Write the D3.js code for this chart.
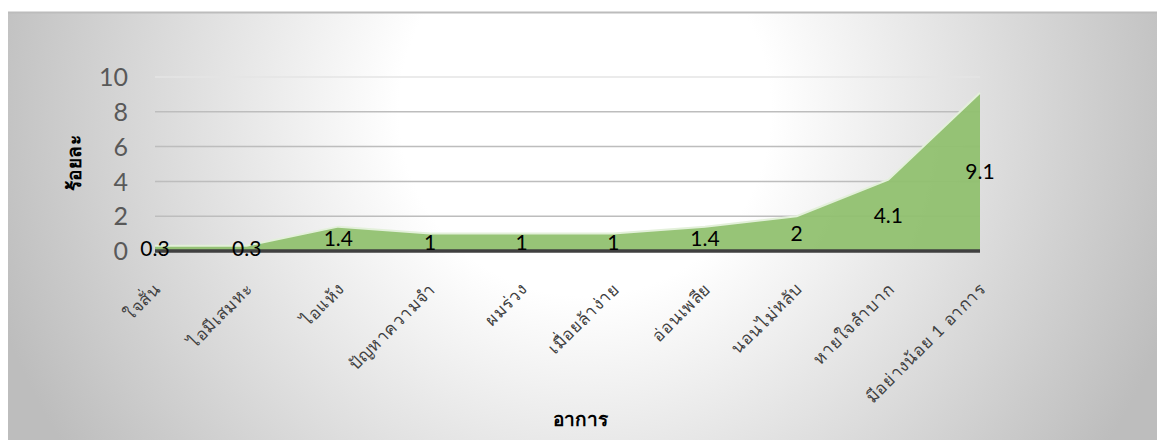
<!DOCTYPE html>
<html>
<head>
<meta charset="utf-8">
<script src="https://cdn.jsdelivr.net/npm/d3@7"></script>
<style>
  body { margin: 0; background: #fff; }
  text { font-family: Lato, "Noto Sans", sans-serif; }
</style>
</head>
<body>
<svg id="chart" width="1157" height="440"></svg>
<script>
// data
var symptoms = ["ใจสั่น", "ไอมีเสมหะ", "ไอแห้ง", "ปัญหาความจำ", "ผมร่วง",
  "เมื่อยล้าง่าย", "อ่อนเพลีย", "นอนไม่หลับ", "หายใจลำบาก", "มีอย่างน้อย 1 อาการ"];
var percent = [0.3, 0.3, 1.4, 1, 1, 1, 1.4, 2, 4.1, 9.1];
var yTicks = [0, 2, 4, 6, 8, 10];

var svg = d3.select("#chart");
var svgWidth = +svg.attr("width");
var svgHeight = +svg.attr("height");
var margin = { top: 77, right: 177, bottom: 189, left: 155 };
var chartWidth = svgWidth - margin.left - margin.right;
var chartHeight = svgHeight - margin.top - margin.bottom;

// background gradient
var defs = svg.append("defs");
var grad = defs.append("radialGradient")
  .attr("id", "bg")
  .attr("gradientUnits", "userSpaceOnUse")
  .attr("cx", 585).attr("cy", 110).attr("r", 620);
grad.append("stop").attr("offset", "0").attr("stop-color", "#ffffff");
grad.append("stop").attr("offset", "0.3").attr("stop-color", "#ffffff");
grad.append("stop").attr("offset", "1").attr("stop-color", "#bdbdbd");

svg.append("rect")
  .attr("x", 8).attr("y", 12)
  .attr("width", svgWidth - 8).attr("height", svgHeight - 12)
  .attr("fill", "url(#bg)");
svg.append("line")
  .attr("x1", 8).attr("x2", svgWidth)
  .attr("y1", 12.5).attr("y2", 12.5)
  .attr("stroke", "#bcbcbc").attr("stroke-width", 2);

var g = svg.append("g")
  .attr("transform", "translate(" + margin.left + "," + margin.top + ")");

// scales
var xScale = d3.scalePoint()
  .domain(symptoms)
  .range([0, chartWidth]);
var yScale = d3.scaleLinear()
  .domain([0, 10])
  .range([chartHeight, 0]);

// gridlines
g.selectAll(".grid")
  .data(yTicks.filter(d => d > 0))
  .enter().append("line")
  .attr("class", "grid")
  .attr("x1", 0).attr("x2", chartWidth)
  .attr("y1", d => yScale(d)).attr("y2", d => yScale(d))
  .attr("stroke", d => d === 10 ? "#e4e4e4" : "#bdbdbd")
  .attr("stroke-width", 1.5);

// area
var area = d3.area()
  .x((d, i) => xScale(symptoms[i]))
  .y0(yScale(0))
  .y1(d => yScale(d));
var line = d3.line()
  .x((d, i) => xScale(symptoms[i]))
  .y(d => yScale(d));

g.append("path")
  .datum(percent)
  .attr("d", area)
  .attr("fill", "#8fbf6d")
  .attr("fill-opacity", 0.93);
g.append("path")
  .datum(percent)
  .attr("d", line)
  .attr("fill", "none")
  .attr("stroke", "#e3f0da")
  .attr("stroke-width", 2);

// y axis
var yAxis = d3.axisLeft(yScale).tickValues(yTicks).tickSize(0).tickPadding(27);
var yG = g.append("g").call(yAxis);
yG.select(".domain").remove();
yG.selectAll("text")
  .attr("font-size", "25px")
  .attr("fill", "#595959")
  .attr("dy", "0.35em");

// x axis line
g.append("line")
  .attr("x1", 0).attr("x2", chartWidth)
  .attr("y1", yScale(0)).attr("y2", yScale(0))
  .attr("stroke", "#404040")
  .attr("stroke-width", 3.5);

// data labels
g.selectAll(".dlabel")
  .data(percent)
  .enter().append("text")
  .attr("class", "dlabel")
  .attr("x", (d, i) => xScale(symptoms[i]))
  .attr("y", d => yScale(d / 2))
  .attr("dy", "0.35em")
  .attr("text-anchor", "middle")
  .attr("font-size", "21px")
  .attr("fill", "#000")
  .text(d => d);

// x tick labels
g.selectAll(".xlabel")
  .data(symptoms)
  .enter().append("text")
  .attr("class", "xlabel")
  .attr("transform", d => "translate(" + (xScale(d) + 7) + "," + (yScale(0) + 39) + ") rotate(-45)")
  .attr("text-anchor", "end")
  .attr("font-size", "17px")
  .attr("letter-spacing", "0.8px")
  .attr("fill", "#404040")
  .text(d => d);

// axis titles
svg.append("text")
  .attr("x", 580)
  .attr("y", 426)
  .attr("text-anchor", "middle")
  .attr("font-size", "19px")
  .attr("font-weight", "bold")
  .attr("fill", "#000")
  .text("อาการ");

svg.append("text")
  .attr("transform", "translate(81,163) rotate(-90)")
  .attr("text-anchor", "middle")
  .attr("font-size", "19px")
  .attr("font-weight", "bold")
  .attr("letter-spacing", "0.5px")
  .attr("fill", "#000")
  .text("ร้อยละ");
</script>
</body>
</html>
